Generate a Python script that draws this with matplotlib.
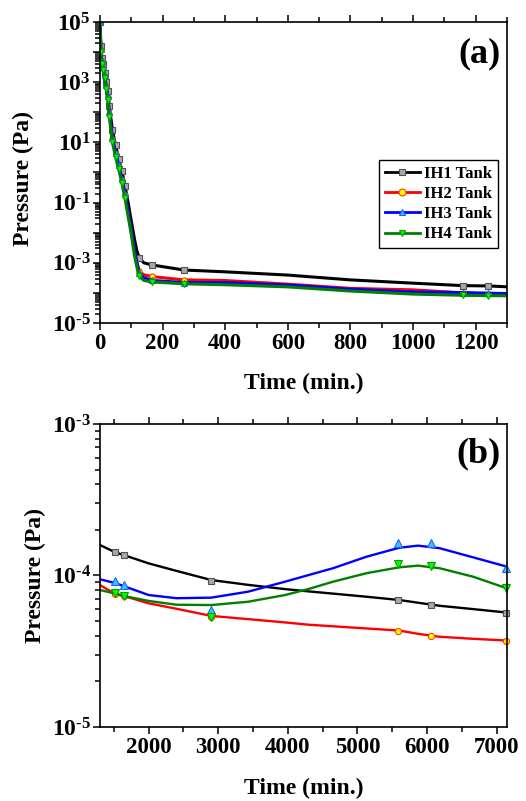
import numpy as np
import matplotlib
matplotlib.use("Agg")
import matplotlib.pyplot as plt
from matplotlib.ticker import LogLocator, FuncFormatter, MultipleLocator, NullFormatter

plt.rcParams['font.family'] = ['Liberation Serif', 'DejaVu Serif']
plt.rcParams['font.weight'] = 'bold'
plt.rcParams['mathtext.fontset'] = 'custom'
plt.rcParams['mathtext.rm'] = 'Liberation Serif:bold'
plt.rcParams['mathtext.default'] = 'rm'

# ---- panel (a): 0 - 1300 min, traced curves (Pa)
time_a = [0, 3, 6, 10, 15, 20, 25, 30, 40, 50, 60, 70, 80, 90, 100, 110, 118, 126,
          140, 165, 268, 400, 600, 800, 1000, 1160, 1240, 1300]
ih1_a = [1e5, 1.6e4, 6.3e3, 4.0e3, 2.1e3, 1.0e3, 500, 158, 25, 7.9, 2.8, 1.12, 0.355,
         0.1, 0.025, 6.3e-3, 2.5e-3, 1.41e-3, 1.0e-3, 8.5e-4, 5.75e-4, 5.0e-4, 3.9e-4,
         2.7e-4, 2.1e-4, 1.74e-4, 1.7e-4, 1.59e-4]
ih2_a = [1e5, 1.2e4, 4.8e3, 3.0e3, 1.6e3, 760, 316, 89, 12.6, 4.0, 1.58, 0.56, 0.178,
         0.045, 0.0112, 2.5e-3, 1.0e-3, 5.2e-4, 4.0e-4, 3.5e-4, 2.7e-4, 2.57e-4, 1.95e-4,
         1.41e-4, 1.26e-4, 1.0e-4, 9.1e-5, 8.65e-5]
ih3_a = [1e5, 1.26e4, 5.0e3, 3.2e3, 1.7e3, 790, 355, 100, 14, 4.5, 1.8, 0.63, 0.2,
         0.05, 0.0126, 2.8e-3, 1.0e-3, 4.5e-4, 3.2e-4, 2.6e-4, 2.2e-4, 2.2e-4, 1.82e-4,
         1.32e-4, 1.07e-4, 1.02e-4, 9.8e-5, 9.44e-5]
ih4_a = [1e5, 1.0e4, 4.0e3, 2.5e3, 1.4e3, 600, 250, 71, 10, 3.2, 1.26, 0.45, 0.138,
         0.035, 8.9e-3, 1.8e-3, 7.1e-4, 3.5e-4, 2.6e-4, 2.3e-4, 2.0e-4, 1.86e-4, 1.58e-4,
         1.15e-4, 9.1e-5, 8.3e-5, 8.1e-5, 8.0e-5]
marks_a = [0, 1, 2, 3, 4, 5, 6, 7, 8, 9, 10, 11, 12, 17, 19, 20, 25, 26]

# ---- panel (b): 1300 - 7150 min
time_b = [1300, 1520, 1640, 2000, 2400, 2900, 3430, 3960, 4300, 4650, 5130, 5600,
          5870, 6180, 6660, 7150]
ih1_b = [1.589e-4, 1.422e-4, 1.365e-4, 1.202e-4, 1.072e-4, 9.33e-5, 8.67e-5, 8.13e-5,
         7.85e-5, 7.59e-5, 7.24e-5, 6.89e-5, 6.61e-5, 6.31e-5, 6.0e-5, 5.69e-5]
ih2_b = [8.65e-5, 7.55e-5, 7.33e-5, 6.55e-5, 6.03e-5, 5.41e-5, 5.15e-5, 4.90e-5,
         4.73e-5, 4.62e-5, 4.47e-5, 4.33e-5, 4.12e-5, 3.94e-5, 3.82e-5, 3.72e-5]
ih3_b = [9.44e-5, 8.91e-5, 8.51e-5, 7.43e-5, 7.08e-5, 7.14e-5, 7.82e-5, 9.10e-5,
         1.007e-4, 1.117e-4, 1.33e-4, 1.524e-4, 1.574e-4, 1.514e-4, 1.318e-4, 1.143e-4]
ih4_b = [8.02e-5, 7.59e-5, 7.33e-5, 6.79e-5, 6.41e-5, 6.38e-5, 6.71e-5, 7.43e-5,
         8.15e-5, 9.10e-5, 1.035e-4, 1.132e-4, 1.161e-4, 1.117e-4, 9.82e-5, 8.22e-5]

# measured points shown as markers in panel (b)
mark_t_b = [1520, 1640, 2890, 5590, 6050, 7140]
ih1_mb = [1.42e-4, 1.36e-4, 9.2e-5, 6.89e-5, 6.38e-5, 5.69e-5]
ih2_mb = [7.55e-5, 7.33e-5, 5.30e-5, 4.33e-5, 3.98e-5, 3.72e-5]
ih3_mb = [9.25e-5, 8.65e-5, 5.92e-5, 1.644e-4, 1.63e-4, 1.117e-4]
ih4_mb = [7.62e-5, 7.33e-5, 5.35e-5, 1.186e-4, 1.161e-4, 8.22e-5]

labels = ['IH1 Tank', 'IH2 Tank', 'IH3 Tank', 'IH4 Tank']
styles = [
    dict(color='black', marker='s', mfc='#a8a8a8', mec='#505050'),
    dict(color='red', marker='o', mfc='#ffff00', mec='#ff4000'),
    dict(color='blue', marker='^', mfc='#30c8ff', mec='#2060ff'),
    dict(color='#008000', marker='v', mfc='#00ff00', mec='#00a000'),
]
msize_b = [4.4, 4.4, 5.6, 5.6]

fig = plt.figure(figsize=(5.26, 8.01), dpi=100, facecolor='white')
ax1 = fig.add_axes([0.190, 0.5968, 0.774, 0.3757])
ax2 = fig.add_axes([0.190, 0.0924, 0.774, 0.3783])


def style_axis(ax):
    for sp in ax.spines.values():
        sp.set_linewidth(1.2)
    ax.tick_params(which='both', direction='out', top=True, right=False, width=1.1,
                   labelsize=16.5, pad=2)
    ax.tick_params(which='major', length=5)
    ax.tick_params(which='minor', length=3.5)
    ax.tick_params(axis='y', which='both', labelsize=17, pad=1.5)
    ax.set_yscale('log')
    ax.yaxis.set_major_locator(LogLocator(base=10, numticks=20))
    ax.yaxis.set_minor_locator(LogLocator(base=10, subs=np.arange(2, 10), numticks=20))
    ax.yaxis.set_minor_formatter(NullFormatter())


def exp_fmt(skip_even):
    def f(v, pos):
        e = int(round(np.log10(v)))
        if skip_even and e % 2 == 0:
            return ''
        return r'$10^{\text{%d}}$' % e
    return FuncFormatter(f)


# panel (a)
lines_a = [ih1_a, ih2_a, ih3_a, ih4_a]
handles = []
for vals, st, lab in zip(lines_a, styles, labels):
    h, = ax1.plot(time_a, vals, lw=2.2, ms=3.8, mew=0.8, markevery=marks_a, label=lab, **st)
    handles.append(h)
style_axis(ax1)
ax1.set_xlim(0, 1300)
ax1.set_ylim(1e-5, 1e5)
ax1.xaxis.set_major_locator(MultipleLocator(200))
ax1.xaxis.set_minor_locator(MultipleLocator(100))
ax1.yaxis.set_major_formatter(exp_fmt(True))
ax1.set_xlabel('Time (min.)', fontsize=17, fontweight='bold')
ax1.set_ylabel('Pressure (Pa)', fontsize=17, fontweight='bold')
ax1.xaxis.set_label_coords(0.5, -0.166)
ax1.yaxis.set_label_coords(-0.163, 0.48)
ax1.text(0.983, 0.894, '(a)', transform=ax1.transAxes, ha='right', va='center',
         fontsize=26, fontweight='bold')
leg = ax1.legend(handles=handles, loc='upper right', bbox_to_anchor=(0.978, 0.5415),
                 borderaxespad=0, fontsize=12, handlelength=2.1, handletextpad=0.25,
                 labelspacing=0.25, borderpad=0.35, fancybox=False, framealpha=1,
                 edgecolor='black')
leg.get_frame().set_linewidth(1.0)
for lh in leg.get_lines():
    lh.set_linewidth(2.0)
    lh.set_markersize(5)

# panel (b)
lines_b = [ih1_b, ih2_b, ih3_b, ih4_b]
marks_b = [ih1_mb, ih2_mb, ih3_mb, ih4_mb]
for vals, mvals, st, ms in zip(lines_b, marks_b, styles, msize_b):
    ax2.plot(time_b, vals, lw=1.7, color=st['color'])
    ax2.plot(mark_t_b, mvals, ls='none', ms=ms, mew=0.8, marker=st['marker'],
             mfc=st['mfc'], mec=st['mec'], clip_on=False)
style_axis(ax2)
ax2.set_xlim(1300, 7150)
ax2.set_ylim(1e-5, 1e-3)
ax2.xaxis.set_major_locator(MultipleLocator(1000))
ax2.xaxis.set_minor_locator(MultipleLocator(500))
ax2.yaxis.set_major_formatter(exp_fmt(False))
ax2.set_xlabel('Time (min.)', fontsize=17, fontweight='bold')
ax2.set_ylabel('Pressure (Pa)', fontsize=17, fontweight='bold')
ax2.xaxis.set_label_coords(0.5, -0.168)
ax2.yaxis.set_label_coords(-0.133, 0.5)
ax2.text(0.983, 0.901, '(b)', transform=ax2.transAxes, ha='right', va='center',
         fontsize=26, fontweight='bold')

fig.savefig('out.png', dpi=100, facecolor='white')
